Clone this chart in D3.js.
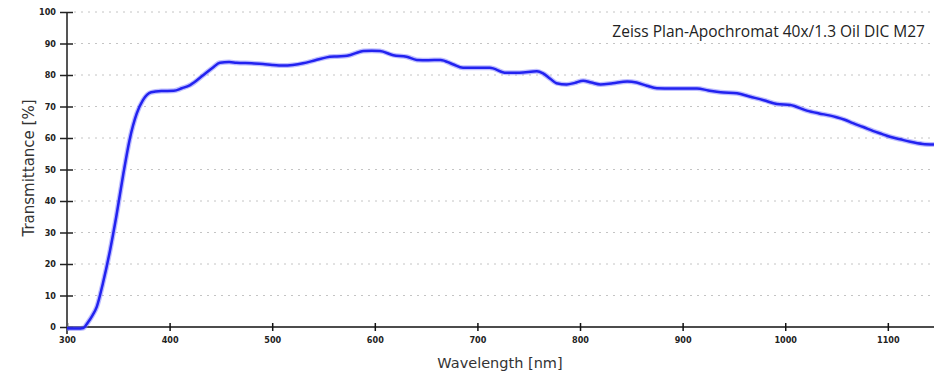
<!DOCTYPE html>
<html>
<head>
<meta charset="utf-8">
<script src="https://cdn.jsdelivr.net/npm/d3@7"></script>
<style>
  body { margin: 0; background: #fff; }
  svg { display: block; }
</style>
</head>
<body>
<div id="chart"></div>
<script>
// wavelength [nm] and transmittance [%]
const wavelength = [300, 305, 310, 316, 320, 325, 329, 335, 342, 348, 355, 361, 368, 374, 382, 392, 404, 412, 420, 433, 442, 449, 458, 465, 480, 491, 500, 511, 520, 530, 542, 553, 563, 573, 589, 597, 605, 618, 631, 641, 652, 664, 676, 686, 699, 712, 728, 741, 758, 764, 771, 777, 787, 795, 803, 811, 820, 832, 846, 855, 865, 875, 890, 900, 914, 925, 937, 953, 966, 979, 992, 1005, 1021, 1033, 1044, 1050, 1058, 1066, 1076, 1086, 1094, 1102, 1112, 1122, 1134, 1145];
const transmittance = [-0.4, -0.5, -0.5, -0.3, 1.3, 3.8, 6.4, 13.9, 24.4, 35.0, 48.8, 59.4, 67.8, 72.0, 74.5, 74.9, 75.0, 75.8, 76.8, 80.0, 82.3, 83.9, 84.1, 83.9, 83.7, 83.5, 83.2, 83.0, 83.2, 83.7, 84.7, 85.6, 85.9, 86.1, 87.6, 87.7, 87.6, 86.3, 85.8, 84.8, 84.7, 84.8, 83.4, 82.3, 82.3, 82.3, 80.7, 80.7, 81.2, 80.5, 78.8, 77.4, 77.0, 77.5, 78.2, 77.6, 77.0, 77.4, 77.9, 77.6, 76.6, 75.8, 75.7, 75.7, 75.7, 75.1, 74.5, 74.2, 73.1, 72.0, 70.8, 70.5, 68.7, 67.8, 67.1, 66.6, 65.8, 64.7, 63.5, 62.2, 61.3, 60.4, 59.6, 58.8, 58.1, 57.9];

const xTicks = [300, 400, 500, 600, 700, 800, 900, 1000, 1100];
const yTicks = [0, 10, 20, 30, 40, 50, 60, 70, 80, 90, 100];
const title = 'Zeiss Plan-Apochromat 40x/1.3 Oil DIC M27';

const W = 934, H = 374;
const margin = { top: 12, right: 0, bottom: 47, left: 67 };

const svg = d3.select('#chart').append('svg')
  .attr('width', W)
  .attr('height', H);

const x = d3.scaleLinear().domain([300, 1145]).range([margin.left, W - margin.right]);
const y = d3.scaleLinear().domain([0, 100]).range([H - margin.bottom, margin.top]);

// dotted grid lines
svg.append('g')
  .selectAll('line')
  .data(yTicks.filter(d => d > 0))
  .join('line')
    .attr('x1', margin.left + 7)
    .attr('x2', W)
    .attr('y1', d => y(d))
    .attr('y2', d => y(d))
    .attr('stroke', '#c4c4c4')
    .attr('stroke-width', 1)
    .attr('stroke-dasharray', '2,5');

const tickFont = '"Liberation Sans Narrow", "DejaVu Sans Condensed", sans-serif';

// x axis
const gx = svg.append('g')
  .attr('transform', `translate(0,${y(0)})`)
  .call(d3.axisBottom(x).tickValues(xTicks).tickFormat(d3.format('d')).tickSize(4).tickSizeOuter(0).tickPadding(6));
gx.select('.domain').attr('d', `M${margin.left},0H${W}`).attr('stroke', '#111').attr('stroke-width', 1.5);
gx.selectAll('.tick line').attr('y1', -4).attr('stroke', '#111').attr('stroke-width', 1.5);
gx.selectAll('.tick text')
  .attr('font-family', tickFont).attr('font-weight', 'bold').attr('font-size', 9).attr('fill', '#222');

// y axis
const gy = svg.append('g')
  .attr('transform', `translate(${margin.left},0)`)
  .call(d3.axisLeft(y).tickValues(yTicks).tickSize(7).tickSizeOuter(0).tickPadding(4));
gy.select('.domain').attr('d', `M0,${y(100)}V${y(0) + 7}`).attr('stroke', '#555').attr('stroke-width', 2);
gy.selectAll('.tick line').attr('x1', 6).attr('stroke', '#222').attr('stroke-width', 1.5);
gy.selectAll('.tick text')
  .attr('font-family', tickFont).attr('font-weight', 'bold').attr('font-size', 9).attr('fill', '#222');

// axis labels
svg.append('text')
  .attr('transform', `translate(34,168) rotate(-90)`)
  .attr('text-anchor', 'middle')
  .attr('font-family', '"DejaVu Sans", sans-serif')
  .attr('font-size', 15)
  .attr('fill', '#333')
  .text('Transmittance [%]');

svg.append('text')
  .attr('x', 500)
  .attr('y', 368)
  .attr('text-anchor', 'middle')
  .attr('font-family', '"DejaVu Sans", sans-serif')
  .attr('font-size', 14.5)
  .attr('fill', '#333')
  .text('Wavelength [nm]');

svg.append('text')
  .attr('x', 925)
  .attr('y', 37)
  .attr('text-anchor', 'end')
  .attr('font-family', '"Open Sans", sans-serif')
  .attr('font-size', 15.5)
  .attr('fill', '#222')
  .text(title);

// curve
const data = wavelength.map((w, i) => ({ w, t: transmittance[i] }));
const line = d3.line()
  .x(d => x(d.w))
  .y(d => y(d.t))
  .curve(d3.curveMonotoneX);

svg.append('path')
  .datum(data)
  .attr('d', line)
  .attr('fill', 'none')
  .attr('stroke', '#7b7bff')
  .attr('stroke-opacity', 0.5)
  .attr('stroke-width', 5)
  .attr('stroke-linejoin', 'round');

svg.append('path')
  .datum(data)
  .attr('d', line)
  .attr('fill', 'none')
  .attr('stroke', '#2222f0')
  .attr('stroke-width', 2.5)
  .attr('stroke-linejoin', 'round');
</script>
</body>
</html>
